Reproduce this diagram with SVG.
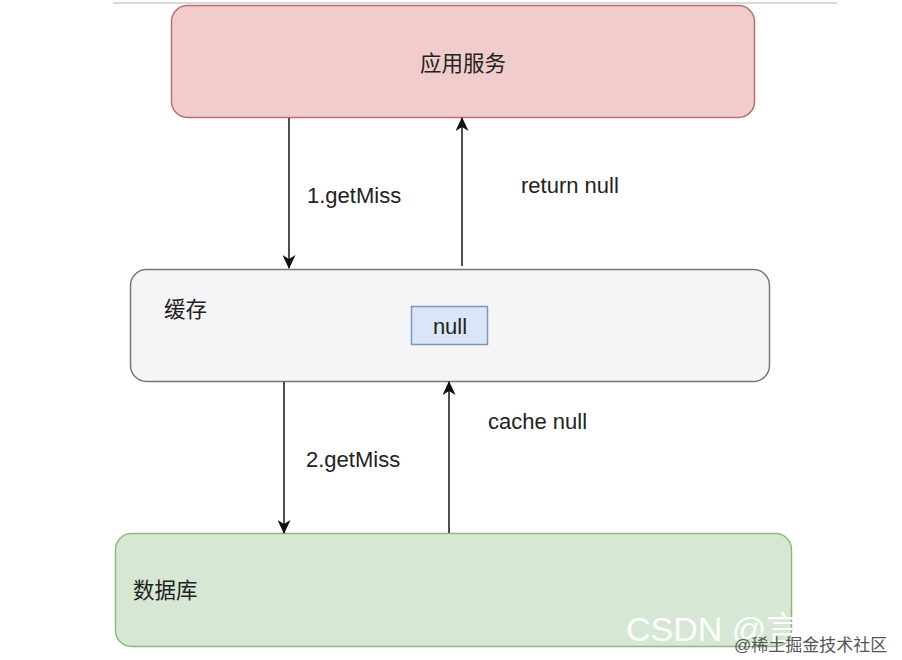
<svg xmlns="http://www.w3.org/2000/svg" width="902" height="660" viewBox="0 0 902 660">
<defs>
<marker id="ah" markerWidth="14" markerHeight="13" refX="13" refY="6.5" orient="auto" markerUnits="userSpaceOnUse" viewBox="0 0 14 13">
<path d="M0,0 L14,6.5 L0,13 L4,6.5 Z" fill="#111"/>
</marker>
<style>
text{font-family:"Liberation Sans","Noto Sans CJK SC",sans-serif;fill:#222}
.lbl{font-size:22px}
.cn{font-size:21.5px;font-family:"Noto Sans CJK SC",sans-serif}
.edge{stroke:#222;stroke-width:1.6;fill:none}
</style>
</defs>
<rect width="902" height="660" fill="#ffffff"/>
<line x1="113" y1="3" x2="837" y2="3" stroke="#cccccc" stroke-width="1.5"/>
<g id="app">
<rect x="171.5" y="5.5" width="583" height="112" rx="16" fill="#f0cdcc" stroke="#b8706d" stroke-width="1.5"/>
<text class="cn" x="463" y="71" text-anchor="middle">应用服务</text>
</g>
<g id="cache">
<rect x="130.5" y="269.5" width="639" height="112" rx="16" fill="#f5f4f7" stroke="#777777" stroke-width="1.5"/>
<text class="cn" x="164" y="317">缓存</text>
</g>
<g id="nullbox">
<rect x="411.5" y="306.5" width="76" height="38" fill="#dae6f8" stroke="#7a96c2" stroke-width="1.5"/>
<text class="lbl" x="450" y="334" text-anchor="middle">null</text>
</g>
<g id="db">
<rect x="115.5" y="533.5" width="676" height="113" rx="16" fill="#d6e7d4" stroke="#91b97f" stroke-width="1.5"/>
<text class="cn" x="133" y="598">数据库</text>
</g>
<g id="connectors">
<line class="edge" x1="289" y1="118" x2="289" y2="268" marker-end="url(#ah)"/>
<line class="edge" x1="462" y1="266" x2="462" y2="118" marker-end="url(#ah)"/>
<line class="edge" x1="284" y1="382" x2="284" y2="533" marker-end="url(#ah)"/>
<line class="edge" x1="449" y1="533" x2="449" y2="382" marker-end="url(#ah)"/>
<text class="lbl" x="307" y="203">1.getMiss</text>
<text class="lbl" x="521" y="193">return null</text>
<text class="lbl" x="306" y="467">2.getMiss</text>
<text class="lbl" x="488" y="429">cache null</text>
</g>
<g id="watermark">
<text x="626" y="641" style="font-size:34px;fill:#ffffff;font-family:'Liberation Sans Narrow','Liberation Sans','Noto Sans CJK SC',sans-serif">CSDN @言</text>
<text x="734" y="651" style="font-size:17px;fill:#555555">@稀土掘金技术社区</text>
</g>
</svg>
